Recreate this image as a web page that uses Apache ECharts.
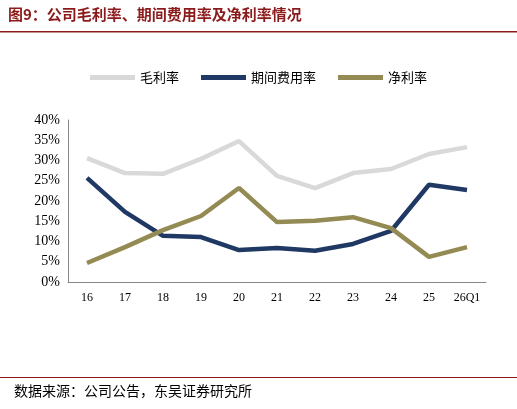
<!DOCTYPE html>
<html><head><meta charset="utf-8">
<script src="https://cdn.jsdelivr.net/npm/echarts@6/dist/echarts.min.js"></script>
<style>body{margin:0;background:#fff}#c{width:517px;height:409px}</style>
</head><body><div id="c"></div>
<script>
const categories=['16','17','18','19','20','21','22','23','24','25','26Q1'];
const grossMargin=[30.6,26.9,26.7,30.4,34.8,26.2,23.2,26.9,27.9,31.6,33.3];
const expenseRatio=[25.7,17.3,11.4,11.1,7.9,8.4,7.7,9.4,12.6,24.0,22.7];
const netMargin=[4.7,8.6,12.8,16.3,23.2,14.8,15.1,16.0,13.3,6.2,8.6];
const names=['毛利率','期间费用率','净利率'];
const colors=['#D9D9D9','#1F3864','#948A54'];
const cjk='"Noto Sans CJK SC", sans-serif';
const serif='"Liberation Serif", serif';
const chart=echarts.init(document.getElementById('c'));
chart.setOption({
  animation:false,
  color:colors,
  graphic:[
    {type:'text',left:8,top:7,style:{text:'图9：公司毛利率、期间费用率及净利率情况',font:'bold 15px '+cjk,fill:'#8B1A1A'}},
    {type:'rect',shape:{x:0,y:31,width:517,height:1.5},style:{fill:'#8B1A1A'}},
    {type:'rect',shape:{x:0,y:377,width:517,height:1},style:{fill:'#8B1A1A'}},
    {type:'text',left:14,top:384,style:{text:'数据来源：公司公告，东吴证券研究所',font:'14px '+cjk,fill:'#000'}}
  ],
  legend:{top:66,left:'center',itemWidth:45,itemHeight:5,itemGap:22,icon:'rect',
    textStyle:{fontFamily:cjk,fontSize:13,color:'#000'},data:names},
  grid:{left:68,right:31,top:120,bottom:127},
  xAxis:{type:'category',data:categories,boundaryGap:true,
    axisLine:{lineStyle:{color:'#888'}},axisTick:{show:false},
    axisLabel:{fontFamily:serif,fontSize:12,color:'#000',margin:10}},
  yAxis:{type:'value',min:0,max:40,interval:5,
    axisLine:{show:true,lineStyle:{color:'#888'}},axisTick:{show:false},splitLine:{show:false},
    axisLabel:{formatter:'{value}%',fontFamily:serif,fontSize:14,color:'#000'}},
  series:[
    {name:names[0],type:'line',data:grossMargin,symbol:'none',lineStyle:{width:4.5}},
    {name:names[1],type:'line',data:expenseRatio,symbol:'none',lineStyle:{width:4.5}},
    {name:names[2],type:'line',data:netMargin,symbol:'none',lineStyle:{width:4.5}}
  ]
});
</script></body></html>
